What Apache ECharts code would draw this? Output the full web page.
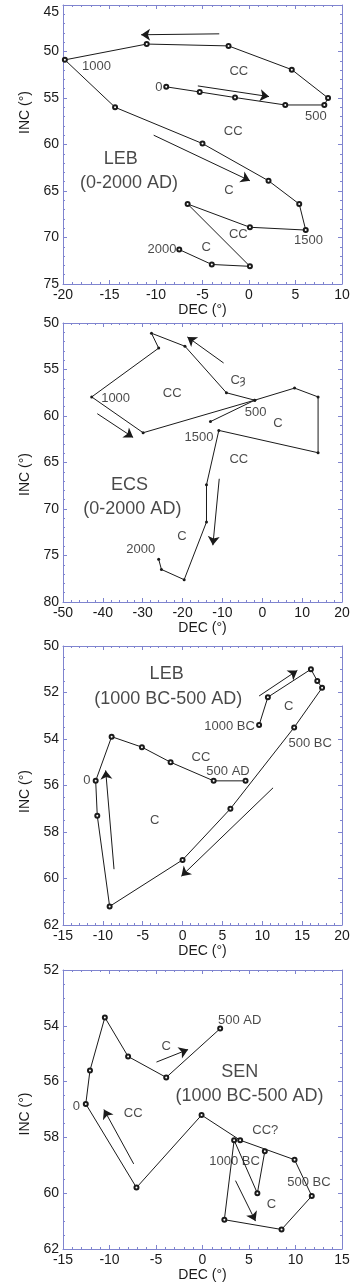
<!DOCTYPE html>
<html>
<head>
<meta charset="utf-8">
<script src="https://cdn.jsdelivr.net/npm/echarts@6/dist/echarts.min.js"></script>
<style>
    html, body { margin: 0; padding: 0; background: #fff; }
    #chart { width: 353px; height: 1285px; }
</style>
</head>
<body>
<div id="chart"></div>
<script>
    // LEB (0-2000 AD)
    var lebDec = [-8.9, -5.3, -1.5, 3.9, 8.1, 8.5, 4.6, -2.2, -11.0, -19.8, -14.4, -5.0, 2.1, 5.4, 6.1, 0.1, -6.6, 0.1, -4.0, -7.5];
    var lebInc = [53.8, 54.35, 54.95, 55.75, 55.75, 55.0, 51.95, 49.4, 49.2, 50.9, 56.0, 59.9, 63.9, 66.4, 69.2, 68.9, 66.4, 73.1, 72.9, 71.3];
    var lebNotes = [[-9.7, 53.85, '0'], [-16.4, 51.6, '1000'], [-1.1, 52.1, 'CC'], [7.2, 57.0, '500'], [-1.7, 58.6, 'CC'],
        [-2.15, 64.95, 'C'], [-1.15, 69.7, 'CC'], [6.4, 70.35, '1500'], [-4.6, 71.05, 'C'], [-9.35, 71.25, '2000']];
    var lebTitle = [[-13.8, 61.6, 'LEB'], [-12.9, 64.15, '(0-2000 AD)']];
    var lebArrows = [[[-3.2, 48.1], [-11.6, 48.2]], [[-5.5, 53.7], [2.15, 54.85]], [[-10.25, 59.0], [0.1, 63.9]]];

    // ECS (0-2000 AD)
    var ecsDec = [-13.0, -1.9, -9.0, -19.4, -27.8, -26.0, -42.8, -29.9, -1.9, 8.1, 14.0, 14.0, -10.9, -14.0, -14.0, -19.6, -25.3, -26.0];
    var ecsInc = [60.6, 58.3, 57.5, 52.5, 51.1, 52.7, 57.95, 61.8, 58.3, 57.0, 57.95, 63.95, 61.55, 67.4, 71.4, 77.6, 76.5, 75.4];
    var ecsNotes = [[-6.1, 56.15, 'Cȝ'], [-36.8, 58.15, '1000'], [-22.6, 57.6, 'CC'], [-1.7, 59.6, '500'], [3.9, 60.75, 'C'],
        [-15.9, 62.25, '1500'], [-5.9, 64.7, 'CC'], [-20.15, 73.0, 'C'], [-30.5, 74.35, '2000']];
    var ecsTitle = [[-33.3, 67.45, 'ECS'], [-32.6, 70.05, '(0-2000 AD)']];
    var ecsArrows = [[[-9.7, 54.3], [-18.8, 51.5]], [[-41.4, 59.75], [-32.4, 62.3]], [[-10.8, 66.75], [-12.4, 73.9]]];

    // LEB (1000 BC-500 AD)
    var leb2Dec = [9.6, 10.7, 16.1, 16.9, 17.5, 14.0, 6.0, 0.0, -9.15, -10.7, -10.9, -8.9, -5.1, -1.5, 3.9, 7.9];
    var leb2Inc = [53.4, 52.2, 51.0, 51.5, 51.8, 53.5, 57.0, 59.2, 61.2, 57.3, 55.8, 53.9, 54.35, 55.0, 55.8, 55.8];
    var leb2Notes = [[13.3, 52.6, 'C'], [5.9, 53.45, '1000 BC'], [16.0, 54.2, '500 BC'], [2.3, 54.8, 'CC'],
        [5.7, 55.4, '500 AD'], [-12.0, 55.8, '0'], [-3.5, 57.5, 'C']];
    var leb2Title = [[-2.0, 51.2, 'LEB'], [-1.8, 52.3, '(1000 BC-500 AD)']];
    var leb2Arrows = [[[9.6, 52.15], [14.4, 51.05]], [[11.35, 56.1], [-0.15, 59.9]], [[-8.6, 59.6], [-9.65, 55.35]]];

    // SEN (1000 BC-500 AD)
    var senDec = [6.7, 5.9, 3.4, 2.35, 8.5, 11.75, 9.9, 4.05, -0.1, -7.1, -12.55, -12.1, -10.5, -8.0, -3.9, 1.9];
    var senInc = [58.5, 60.0, 58.1, 60.95, 61.3, 60.1, 58.8, 58.1, 57.2, 59.8, 56.8, 55.6, 53.7, 55.1, 55.85, 54.1];
    var senNotes = [[4.0, 53.8, '500 AD'], [-3.9, 54.75, 'C'], [-13.55, 56.9, '0'], [-7.45, 57.15, 'CC'], [6.75, 57.75, 'CC?'],
        [3.45, 58.85, '1000 BC'], [11.45, 59.6, '500 BC'], [7.4, 60.4, 'C']];
    var senTitle = [[4.0, 55.65, 'SEN'], [5.05, 56.5, '(1000 BC-500 AD)']];
    var senArrows = [[[-4.95, 55.3], [-1.55, 54.85]], [[-7.4, 58.95], [-10.6, 57.0]], [[3.55, 59.55], [5.7, 61.0]]];

    // axis ranges [min, max, interval]
    var decAxes = [[-20, 10, 5], [-50, 20, 10], [-15, 20, 5], [-15, 15, 5]];
    var incAxes = [[45, 75, 5], [50, 80, 5], [50, 62, 2], [52, 62, 2]];

    var panels = [
        {dec: lebDec, inc: lebInc, notes: lebNotes, title: lebTitle, arrows: lebArrows, filled: false},
        {dec: ecsDec, inc: ecsInc, notes: ecsNotes, title: ecsTitle, arrows: ecsArrows, filled: true},
        {dec: leb2Dec, inc: leb2Inc, notes: leb2Notes, title: leb2Title, arrows: leb2Arrows, filled: false},
        {dec: senDec, inc: senInc, notes: senNotes, title: senTitle, arrows: senArrows, filled: false}
    ];

    var tops = [5, 323, 646, 970];
    var incNameShift = [[0, 0, 0, 64], [0, 24, 0, 0], [0, 12, 0, 0], [0, 9, 0, 0]];
    var frame = '#7f84cf';
    var ink = '#1a1a1a';
    var font = 'Liberation Sans';

    var grids = [], xAxes = [], yAxes = [], series = [];

    function toText(list) {
        return list.map(function (t) { return {name: t[2], value: [t[0], t[1]]}; });
    }

    panels.forEach(function (p, i) {
        grids.push({left: 63, top: tops[i], width: 279, height: 279});

        var xr = decAxes[i], yr = incAxes[i];
        var ySplit = yr[2] === 2 ? 4 : 5;

        function axisBase(r, split) {
            return {
                type: 'value', gridIndex: i, min: r[0], max: r[1], interval: r[2],
                axisLine: {show: true, onZero: false, lineStyle: {color: frame, width: 1}},
                axisTick: {show: true, inside: true, length: 4, lineStyle: {color: frame}},
                minorTick: {show: true, splitNumber: split, length: 2, lineStyle: {color: frame}},
                splitLine: {show: false}
            };
        }

        var xb = axisBase(xr, 5);
        xb.position = 'bottom';
        xb.name = 'DEC (°)';
        xb.nameLocation = 'middle';
        xb.nameGap = 19;
        xb.nameTextStyle = {fontSize: 14, color: ink, fontFamily: font};
        xb.axisLabel = {fontSize: 14, color: ink, margin: 4, fontFamily: font, showMinLabel: true, showMaxLabel: true};
        xAxes.push(xb);

        var xt = axisBase(xr, 5);
        xt.position = 'top';
        xt.axisLabel = {show: false};
        xAxes.push(xt);

        var yl = axisBase(yr, ySplit);
        yl.position = 'left';
        yl.inverse = true;
        yl.name = 'INC (°)';
        yl.nameLocation = 'middle';
        yl.nameGap = 27;
        yl.nameTextStyle = {fontSize: 14, color: ink, fontFamily: font, padding: incNameShift[i]};
        yl.axisLabel = {fontSize: 14, color: ink, margin: 4, fontFamily: font, showMinLabel: true, showMaxLabel: true};
        if (i === 0) yl.axisLabel.verticalAlignMinLabel = 'top';
        yAxes.push(yl);

        var yr2 = axisBase(yr, ySplit);
        yr2.position = 'right';
        yr2.inverse = true;
        yr2.axisLabel = {show: false};
        yAxes.push(yr2);

        var xi = 2 * i, yi = 2 * i;

        series.push({
            type: 'line', xAxisIndex: xi, yAxisIndex: yi,
            data: p.dec.map(function (d, k) { return [d, p.inc[k]]; }),
            symbol: p.filled ? 'circle' : 'emptyCircle',
            symbolSize: p.filled ? 3 : 4,
            itemStyle: {color: ink, borderWidth: 1},
            lineStyle: {color: ink, width: 1},
            z: 3
        });

        series.push({
            type: 'lines', coordinateSystem: 'cartesian2d', xAxisIndex: xi, yAxisIndex: yi,
            data: p.arrows.map(function (a) { return {coords: a}; }),
            symbol: ['none', 'arrow'], symbolSize: 9,
            lineStyle: {color: ink, width: 1, opacity: 1},
            z: 3
        });

        series.push({
            type: 'scatter', xAxisIndex: xi, yAxisIndex: yi,
            data: toText(p.notes), symbolSize: 1,
            itemStyle: {color: 'rgba(0,0,0,0)'},
            label: {show: true, position: 'inside', formatter: '{b}', fontSize: 13, color: ink, fontFamily: font},
            z: 4
        });

        series.push({
            type: 'scatter', xAxisIndex: xi, yAxisIndex: yi,
            data: toText(p.title), symbolSize: 1,
            itemStyle: {color: 'rgba(0,0,0,0)'},
            label: {show: true, position: 'inside', formatter: '{b}', fontSize: 18, color: ink, fontFamily: font},
            z: 4
        });
    });

    var myChart = echarts.init(document.getElementById('chart'), null, {renderer: 'canvas'});
    myChart.setOption({
        animation: false,
        backgroundColor: '#fff',
        grid: grids,
        xAxis: xAxes,
        yAxis: yAxes,
        series: series
    });
</script>
</body>
</html>
